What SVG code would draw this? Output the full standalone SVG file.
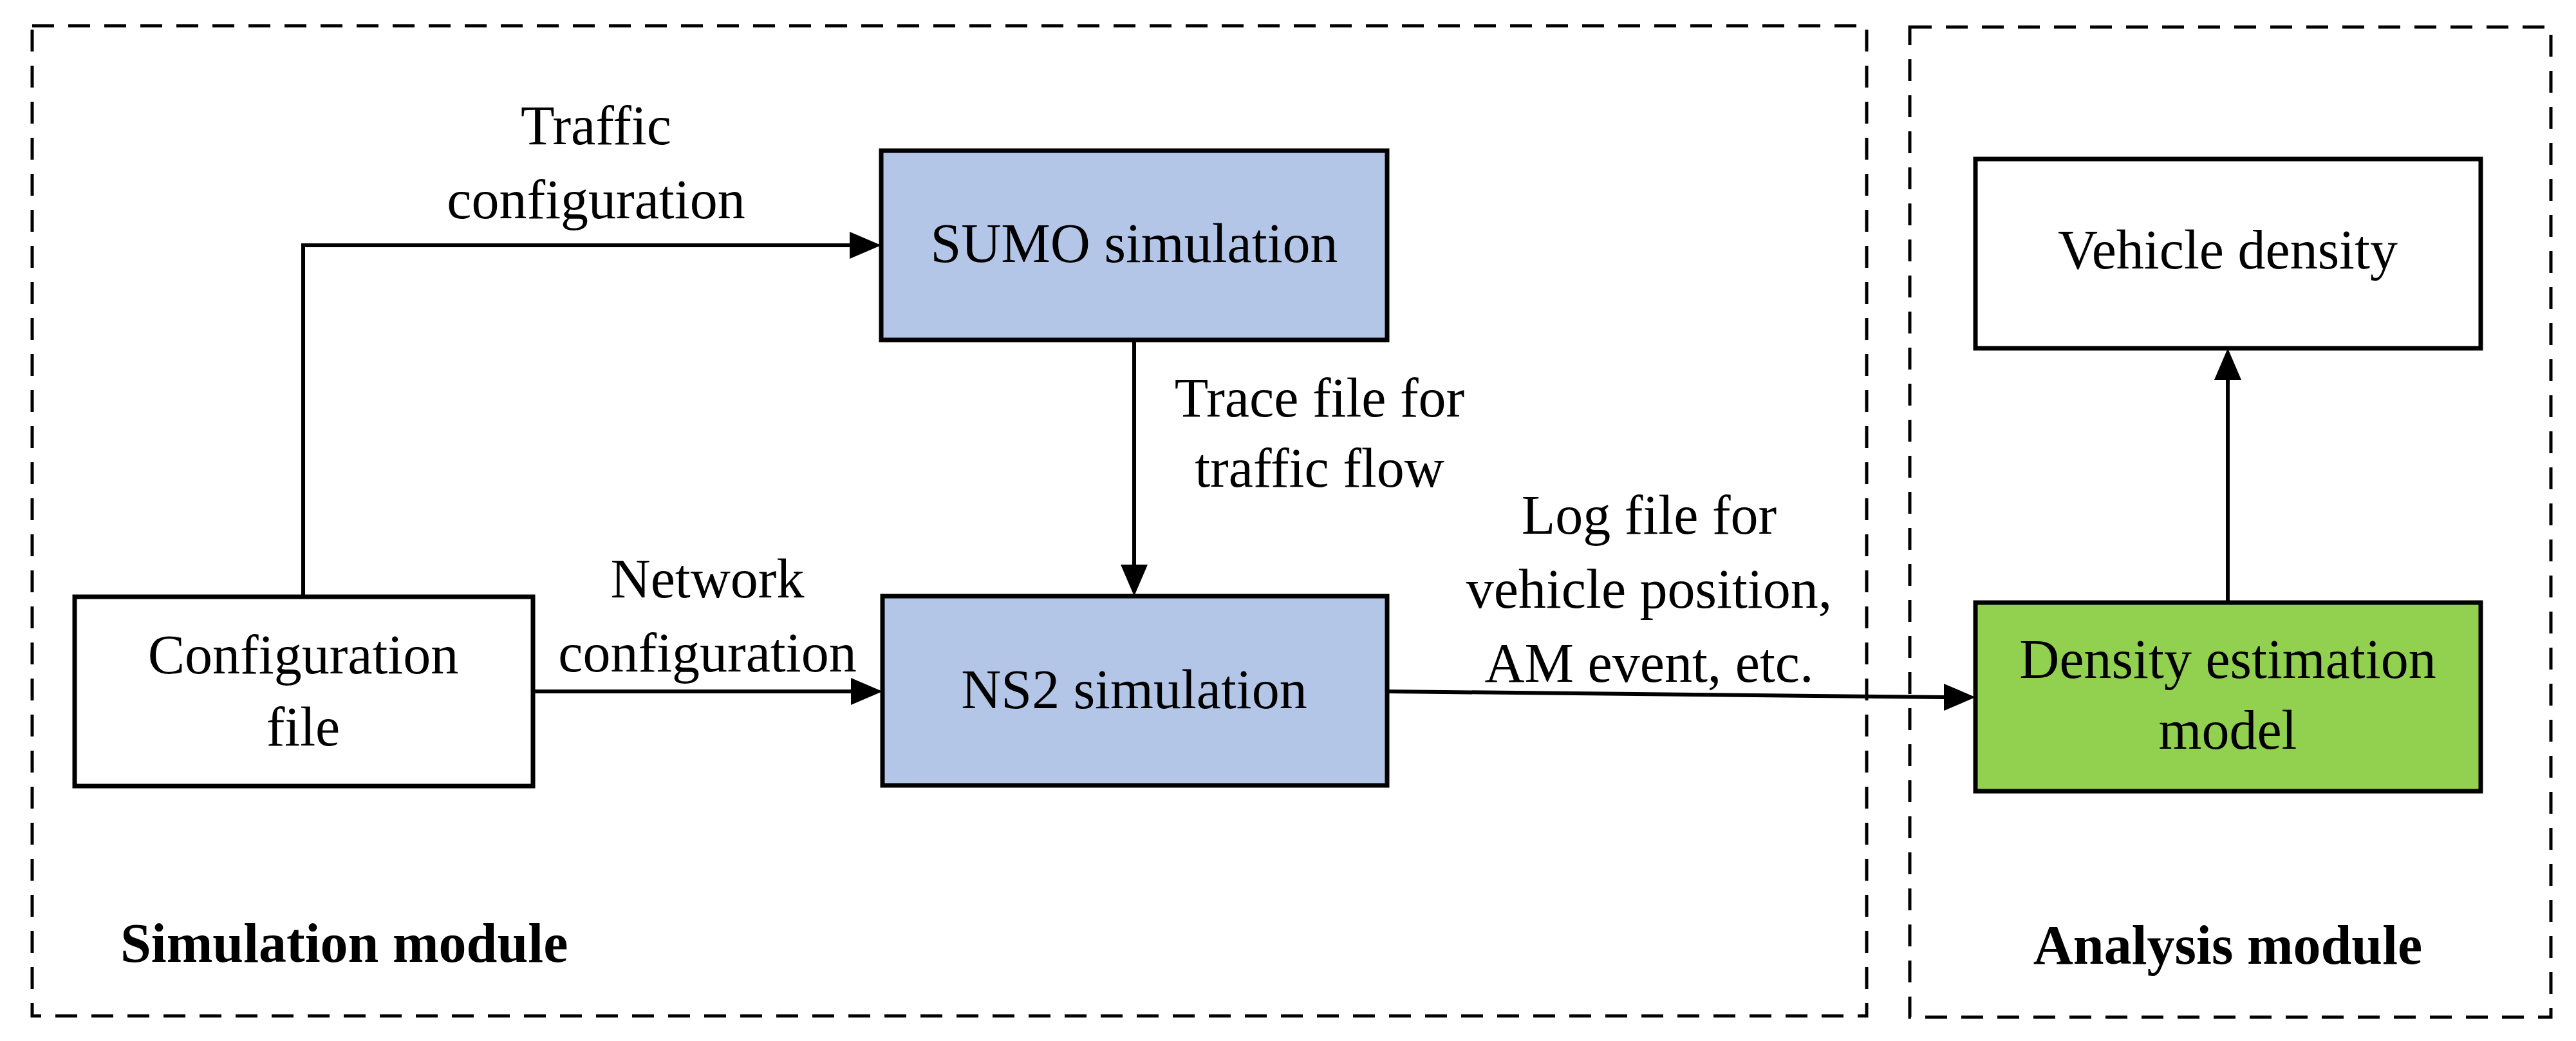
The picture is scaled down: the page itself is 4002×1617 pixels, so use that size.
<svg xmlns="http://www.w3.org/2000/svg" width="4002" height="1617" viewBox="0 0 4002 1617">
<style>
text{font-family:"Liberation Serif","Times New Roman",serif;font-size:86px;fill:#000;text-anchor:middle}
.b{font-weight:bold}
.box{stroke:#000;stroke-width:7}
.dash{fill:none;stroke:#000;stroke-width:5;stroke-dasharray:34 22}
.c{fill:none;stroke:#000;stroke-width:6}
</style>
<defs><marker id="a" viewBox="0 0 10 10" refX="10" refY="5" markerWidth="9" markerHeight="9" markerUnits="userSpaceOnUse" orient="auto" style="overflow:visible"><path d="M0,0 L10,5 L0,10 z"/></marker>
<marker id="m" viewBox="0 0 10 10" refX="10" refY="5" markerWidth="10" markerHeight="9" orient="auto"><path d="M0,0 L10,5 L0,10 z"/></marker></defs>
<g id="simulation-module"><rect class="dash" x="50" y="40" width="2850" height="1538"/><text class="b" x="187" y="1494" style="text-anchor:start">Simulation module</text></g>
<g id="analysis-module"><rect class="dash" x="2967" y="42" width="996" height="1538"/><text class="b" x="3461" y="1497">Analysis module</text></g>
<g id="config"><rect class="box" x="116" y="927" width="712" height="294" fill="#fff"/><text x="471" y="1046">Configuration</text><text x="471" y="1158">file</text></g>
<g id="sumo"><rect class="box" x="1369" y="234" width="786" height="294" fill="#b4c6e7"/><text x="1762" y="407">SUMO simulation</text></g>
<g id="ns2"><rect class="box" x="1371" y="926" width="784" height="294" fill="#b4c6e7"/><text x="1762" y="1100">NS2 simulation</text></g>
<g id="vehicle-density"><rect class="box" x="3069" y="247" width="785" height="294" fill="#fff"/><text x="3461" y="417">Vehicle density</text></g>
<g id="density-model"><rect class="box" x="3069" y="936" width="785" height="293" fill="#92d050"/><text x="3461" y="1053">Density estimation</text><text x="3461" y="1163">model</text></g>
<g id="connectors">
<path class="c" d="M471,927 V381 H1320"/><path d="M1320,360 L1369,381 L1320,402 z"/>
<path class="c" d="M828,1074 H1322"/><path d="M1322,1053 L1371,1074 L1322,1095 z"/>
<path class="c" d="M1762,528 V877"/><path d="M1741,877 L1762,926 L1783,877 z"/>
<path class="c" d="M2155,1074 L3020,1083"/><path d="M3020,1062 L3069,1083 L3020,1104 z"/>
<path class="c" d="M3461,936 V590"/><path d="M3440,590 L3461,541 L3482,590 z"/>
<text x="926" y="224">Traffic</text><text x="926" y="339">configuration</text>
<text x="2050" y="647">Trace file for</text><text x="2050" y="756">traffic flow</text>
<text x="1099" y="928">Network</text><text x="1099" y="1043">configuration</text>
<text x="2562" y="829">Log file for</text><text x="2562" y="944">vehicle position,</text><text x="2562" y="1059">AM event, etc.</text>
</g>
</svg>
